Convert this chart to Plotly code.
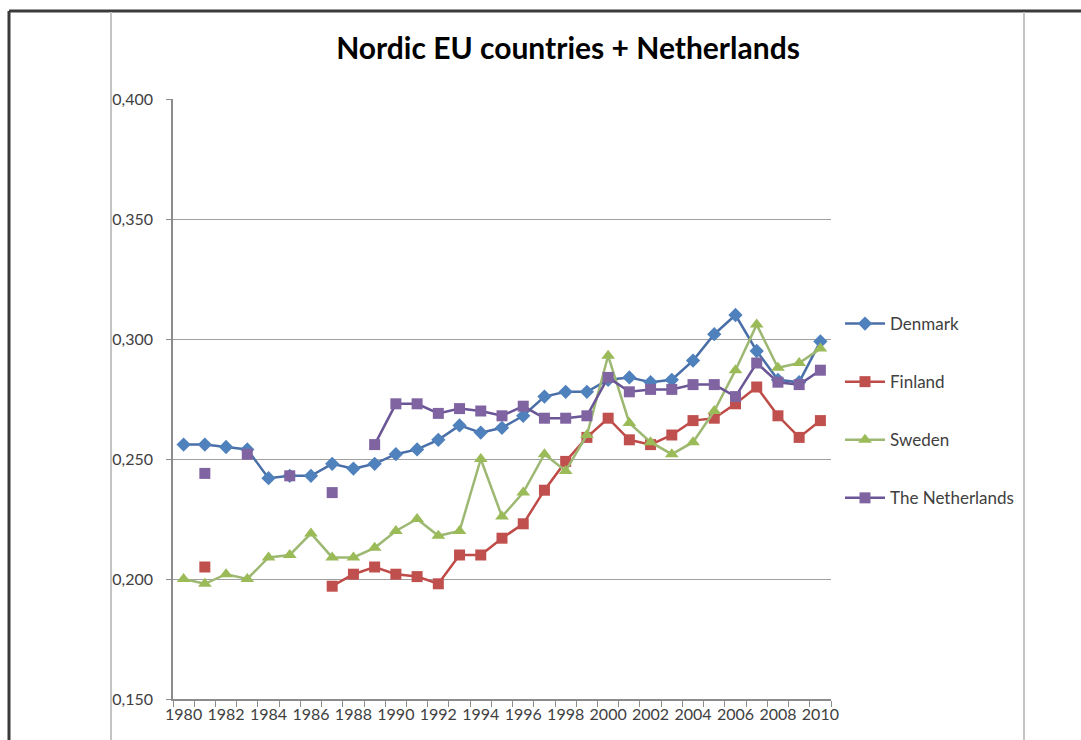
import plotly.graph_objects as go

# Years on the category axis
years = list(range(1980, 2011))

denmark = [0.256, 0.256, 0.255, 0.254, 0.242, 0.243, 0.243, 0.248, 0.246, 0.248,
           0.252, 0.254, 0.258, 0.264, 0.261, 0.263, 0.268, 0.276, 0.278, 0.278,
           0.283, 0.284, 0.282, 0.283, 0.291, 0.302, 0.310, 0.295, 0.283, 0.282,
           0.299]
finland = [None, 0.205, None, None, None, None, None, 0.197, 0.202, 0.205,
           0.202, 0.201, 0.198, 0.210, 0.210, 0.217, 0.223, 0.237, 0.249, 0.259,
           0.267, 0.258, 0.256, 0.260, 0.266, 0.267, 0.273, 0.280, 0.268, 0.259,
           0.266]
sweden = [0.200, 0.198, 0.202, 0.200, 0.209, 0.210, 0.219, 0.209, 0.209, 0.213,
          0.220, 0.225, 0.218, 0.220, 0.250, 0.226, 0.236, 0.252, 0.245, 0.260,
          0.293, 0.265, 0.257, 0.252, 0.257, 0.270, 0.287, 0.306, 0.288, 0.290,
          0.296]
netherlands = [None, 0.244, None, 0.252, None, 0.243, None, 0.236, None, 0.256,
               0.273, 0.273, 0.269, 0.271, 0.270, 0.268, 0.272, 0.267, 0.267, 0.268,
               0.284, 0.278, 0.279, 0.279, 0.281, 0.281, 0.276, 0.290, 0.282, 0.281,
               0.287]

y_ticks = [0.150, 0.200, 0.250, 0.300, 0.350, 0.400]
x_labels = list(range(1980, 2011, 2))

series = [
    ("Denmark", denmark, "diamond", 11, "#4F81BD", "#4A6FA8"),
    ("Finland", finland, "square", 11, "#C0504D", "#BE4B48"),
    ("Sweden", sweden, "triangle-up", 12, "#9BBB59", "#9DB873"),
    ("The Netherlands", netherlands, "square", 11, "#8064A2", "#6A5596"),
]

FONT = "Lato, 'Open Sans', sans-serif"

fig = go.Figure()
for i, (name, vals, sym, size, mcol, lcol) in enumerate(series):
    fig.add_trace(go.Scatter(
        x=years, y=vals, name=name, mode="lines+markers",
        line=dict(color=lcol, width=2.5),
        marker=dict(symbol=sym, size=size, color=mcol, line=dict(width=0)),
        legendgroup=f"g{i}",
        connectgaps=False,
    ))

# plot area in pixels: x 173..831, y 99..699
L, R, T, B = 173, 250, 99, 41
W, H = 1081, 740
pw, ph = W - L - R, H - T - B


def px(x):
    return (x - L) / pw


def py(y):
    return (H - B - y) / ph


shapes = [
    # outer frame
    dict(type="line", xref="paper", yref="paper", x0=px(9), x1=px(1081),
         y0=py(11), y1=py(11), line=dict(color="#3a3a3a", width=3)),
    dict(type="line", xref="paper", yref="paper", x0=px(9), x1=px(9),
         y0=py(11), y1=py(740), line=dict(color="#3a3a3a", width=3)),
    # chart area edges
    dict(type="line", xref="paper", yref="paper", x0=px(111), x1=px(111),
         y0=py(12), y1=py(740), line=dict(color="#c4c4c4", width=2)),
    dict(type="line", xref="paper", yref="paper", x0=px(1024), x1=px(1024),
         y0=py(12), y1=py(740), line=dict(color="#c4c4c4", width=2)),
]

fig.update_layout(
    width=W, height=H,
    margin=dict(l=L, r=R, t=T, b=B, pad=0),
    paper_bgcolor="white", plot_bgcolor="white",
    separators=",.",
    font=dict(family=FONT, size=16, color="#404040"),
    title=dict(text="<b>Nordic EU countries + Netherlands</b>",
               x=568 / W, xref="container", xanchor="center",
               y=1 - 48 / H, yref="container", yanchor="middle",
               font=dict(family=FONT, size=30, color="#000000")),
    xaxis=dict(
        range=[1979.5, 2010.5], tickvals=x_labels, ticktext=[str(v) for v in x_labels],
        ticks="", showgrid=False, zeroline=False,
        showline=True, linecolor="#8c8c8c", linewidth=1.5,
        minor=dict(ticks="outside", tick0=1979.5, dtick=1, ticklen=6,
                   tickcolor="#8c8c8c", showgrid=False),
        tickfont=dict(size=16, color="#404040"),
    ),
    yaxis=dict(
        range=[0.15, 0.40], tickvals=y_ticks, tickformat=".3f",
        showgrid=True, gridcolor="#a0a0a0", gridwidth=1.2,
        zeroline=False, showline=True, linecolor="#8c8c8c", linewidth=1.5,
        ticks="outside", ticklen=5, tickcolor="#8c8c8c",
        ticklabelstandoff=10,
        tickfont=dict(size=16, color="#404040"),
    ),
    legend=dict(
        x=px(840), y=py(306), xanchor="left", yanchor="top",
        tracegroupgap=33, font=dict(size=17, color="#404040"),
        bgcolor="rgba(0,0,0,0)", itemwidth=40,
    ),
    shapes=shapes,
)

fig.write_html("out.html")
